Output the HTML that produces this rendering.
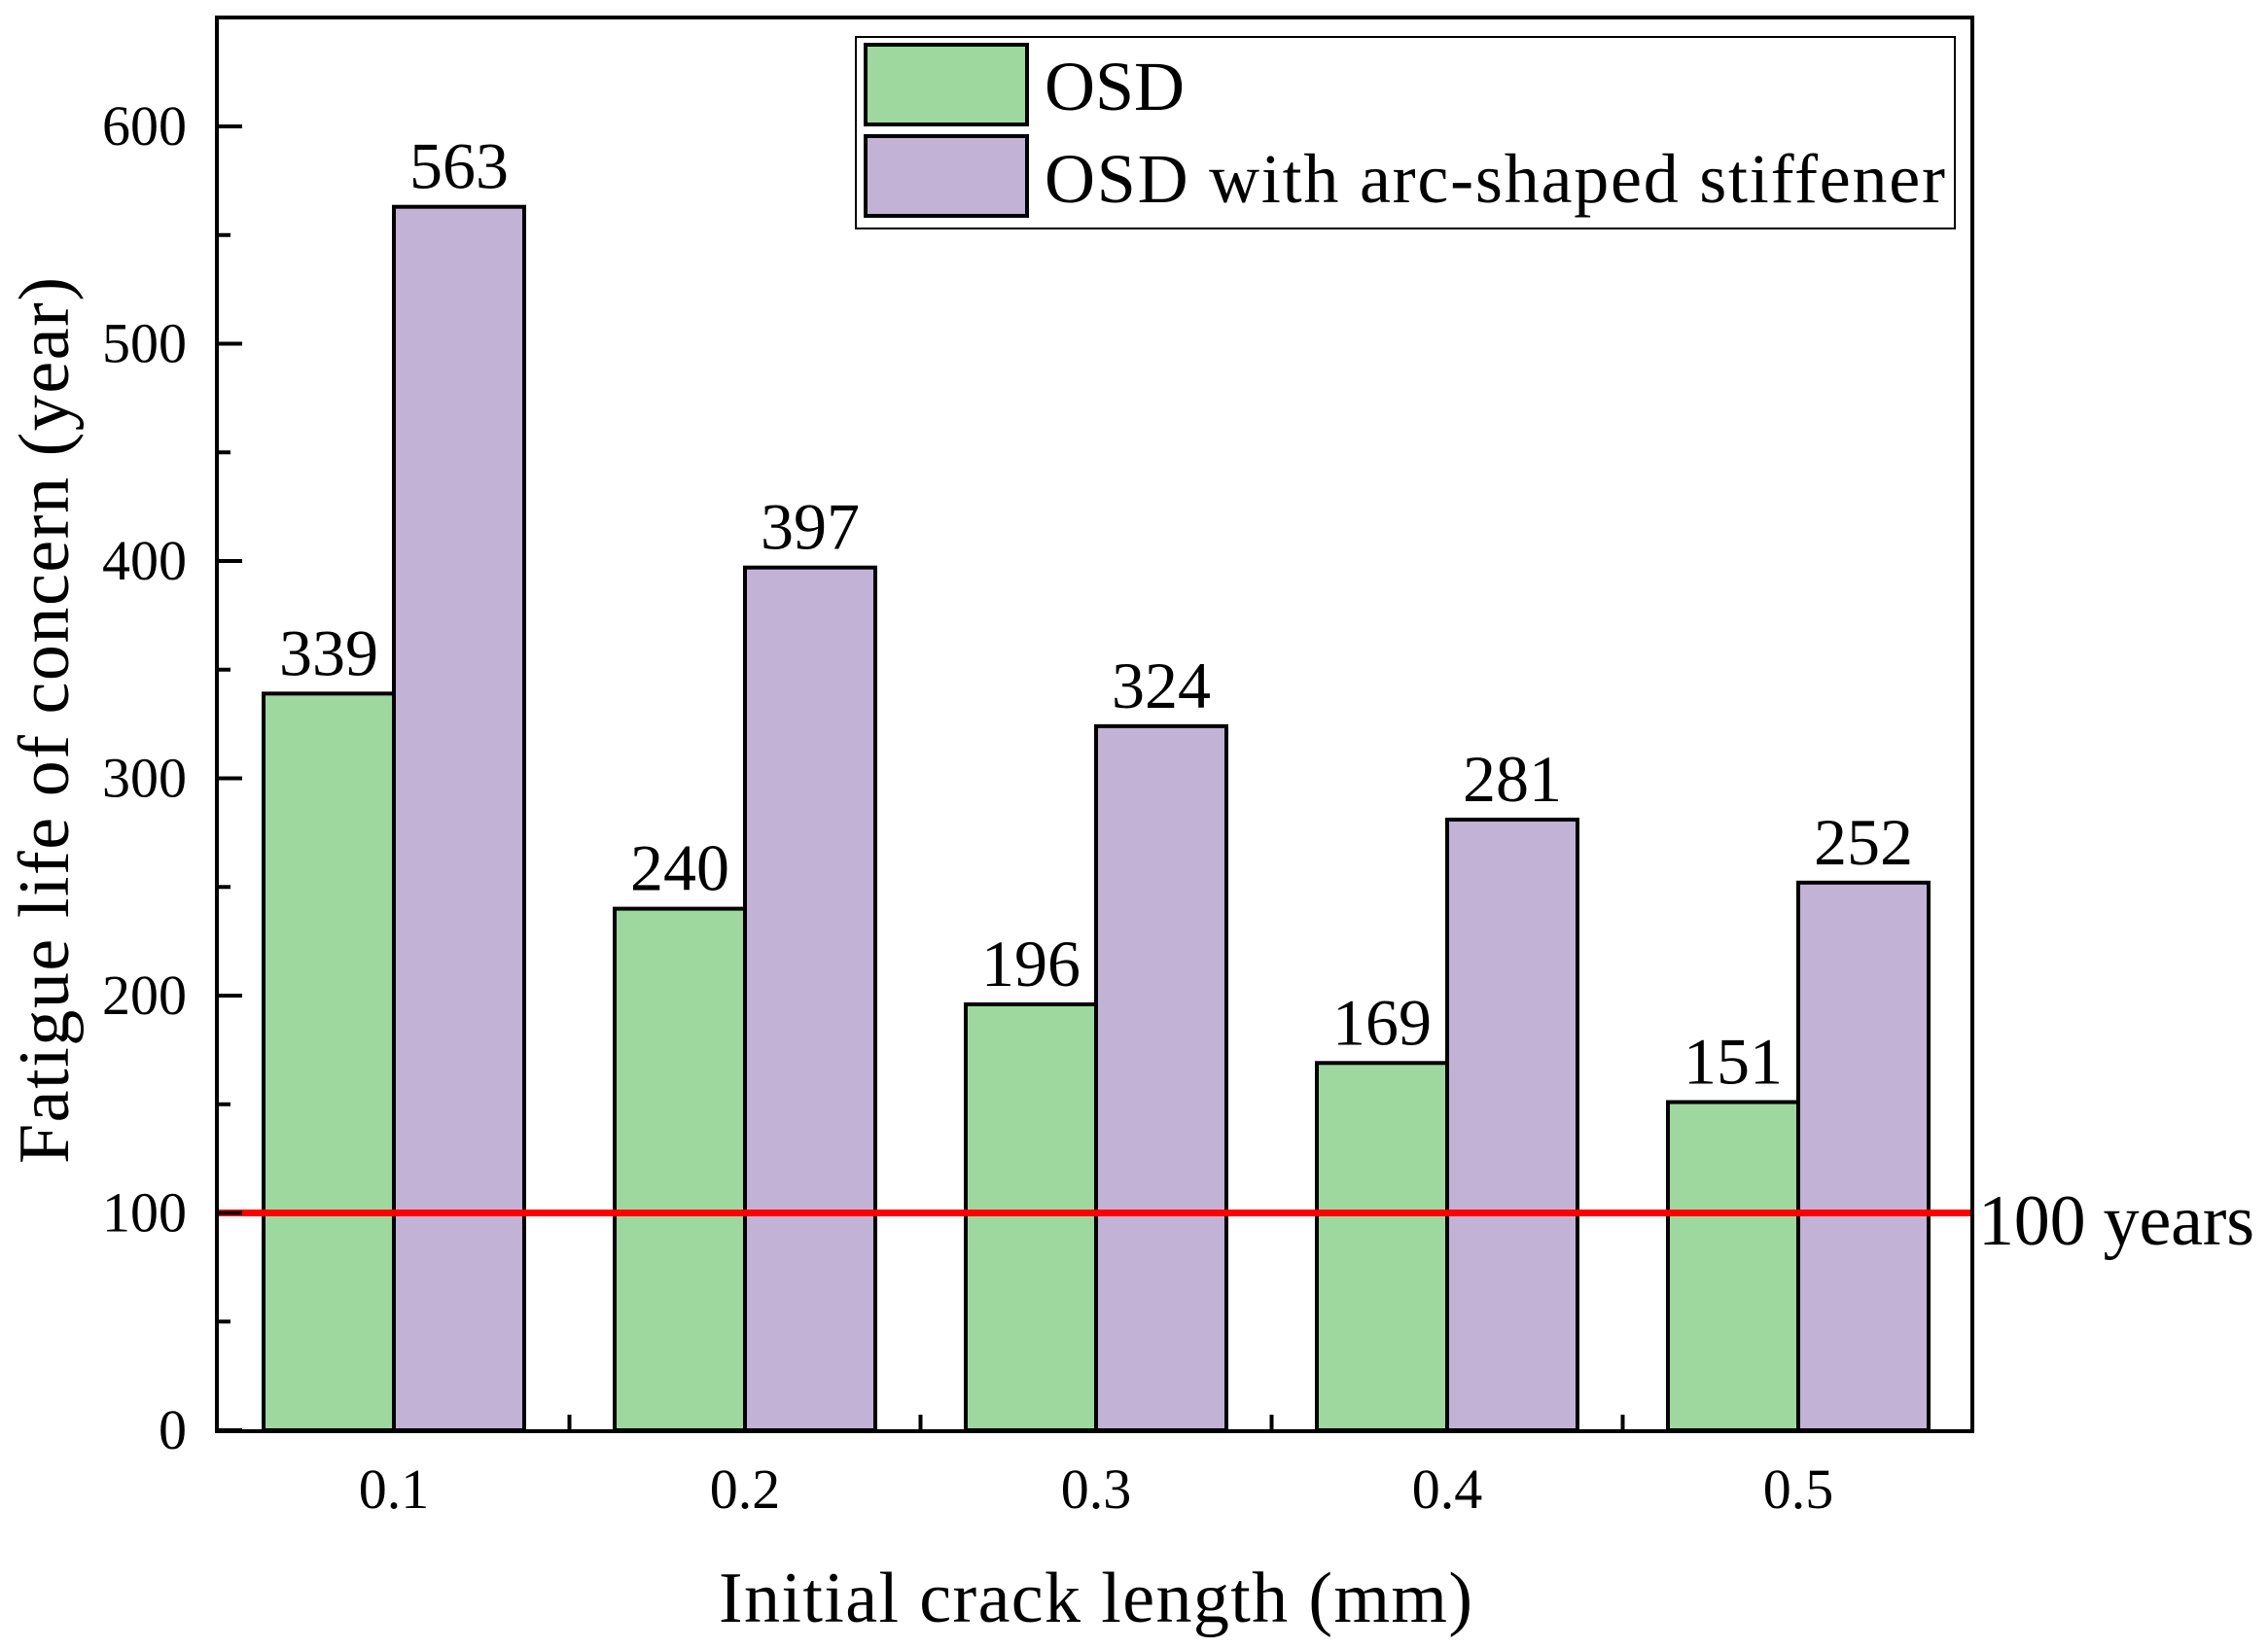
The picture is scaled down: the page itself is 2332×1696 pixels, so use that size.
<!DOCTYPE html>
<html><head><meta charset="utf-8"><style>
html,body{margin:0;padding:0;background:#fff;}
svg{display:block;font-family:"Liberation Serif",serif;}
</style></head><body>
<svg id="chart" width="2332" height="1696" viewBox="0 0 2332 1696" xmlns="http://www.w3.org/2000/svg">
<rect x="0" y="0" width="2332" height="1696" fill="#fff"/>
<g id="bars"></g>
<g id="labels"></g>
<line id="refline" stroke="#ff0000" stroke-width="7"/>
<text id="reftext" x="2034" y="1280" font-size="74" textLength="284">100 years</text>
<rect x="223" y="18" width="1805" height="1454" fill="none" stroke="#000" stroke-width="4"/>
<g id="ticks"></g>
<text x="739" y="1668" font-size="74" textLength="775">Initial crack length  (mm)</text>
<text transform="translate(70,1197) rotate(-90)" font-size="74" textLength="912">Fatigue life of concern  (year)</text>
<g>
<rect x="880" y="38" width="1130" height="197" fill="#fff" stroke="#000" stroke-width="2"/>
<rect x="890" y="46" width="166" height="82" fill="#9fd89f" stroke="#000" stroke-width="4"/>
<text x="1074" y="113" font-size="72">OSD</text>
<rect x="890" y="140" width="166" height="82" fill="#c2b2d6" stroke="#000" stroke-width="4"/>
<text x="1074" y="208" font-size="72" textLength="926">OSD with arc-shaped stiffener</text>
</g>
</svg>
<script>
const categories = ["0.1","0.2","0.3","0.4","0.5"];
const osdValues = [339,240,196,169,151];
const arcValues = [563,397,324,281,252];
const yTicks = [0,100,200,300,400,500,600];
const refValue = 100;

const NS = "http://www.w3.org/2000/svg";
const x0 = 223, x1 = 2028, yBase = 1471, pxPer = 2.235;
const firstC = 405, stepC = 361, barW = 134;
const yScale = v => yBase - v * pxPer;
const xCenter = i => firstC + i * stepC;
function mk(tag, attrs, parent){const e=document.createElementNS(NS,tag);for(const k in attrs)e.setAttribute(k,attrs[k]);parent.appendChild(e);return e;}
const bars=document.getElementById('bars'), labels=document.getElementById('labels'), ticks=document.getElementById('ticks');
categories.forEach((c,i)=>{
  const cx=xCenter(i);
  const series=[[osdValues[i],cx-barW,'#9fd89f','osd'],[arcValues[i],cx,'#c2b2d6','arc']];
  series.forEach(([v,x,col,nm])=>{
    const r=mk('rect',{x:x,y:yScale(v),width:barW,height:yBase-yScale(v),fill:col,stroke:'#000','stroke-width':4},bars);
    
    
    const t=mk('text',{x:x+barW/2,y:yScale(v)-19,'font-size':68,'text-anchor':'middle'},labels);
    t.textContent=v;
    
    
  });
  const tl=mk('text',{x:cx,y:1551,'font-size':58,'text-anchor':'middle'},ticks);
  tl.textContent=c;
  
  
  const tk=mk('line',{x1:cx,x2:cx,y1:yBase,y2:yBase-14,stroke:'#000','stroke-width':4},ticks);
  
  
  if(i<categories.length-1){
    const mx=cx+stepC/2;
    const mt=mk('line',{x1:mx,x2:mx,y1:yBase,y2:yBase-16,stroke:'#000','stroke-width':4},ticks);
    
    
  }
});
yTicks.forEach((v,i)=>{
  const y=yScale(v);
  const l=mk('line',{x1:x0,x2:x0+26,y1:y,y2:y,stroke:'#000','stroke-width':4},ticks);
  
  
  const t=mk('text',{x:192,y:y+19,'font-size':58,'text-anchor':'end'},ticks);
  t.textContent=v;
  
  
  if(i<yTicks.length-1){
    const ym=yScale(v+50);
    const m=mk('line',{x1:x0,x2:x0+14,y1:ym,y2:ym,stroke:'#000','stroke-width':4},ticks);
    
    
  }
});
const rl=document.getElementById('refline');
rl.setAttribute('x1',x0);rl.setAttribute('x2',x1);
rl.setAttribute('y1',yScale(refValue));rl.setAttribute('y2',yScale(refValue));
</script>
</body></html>
